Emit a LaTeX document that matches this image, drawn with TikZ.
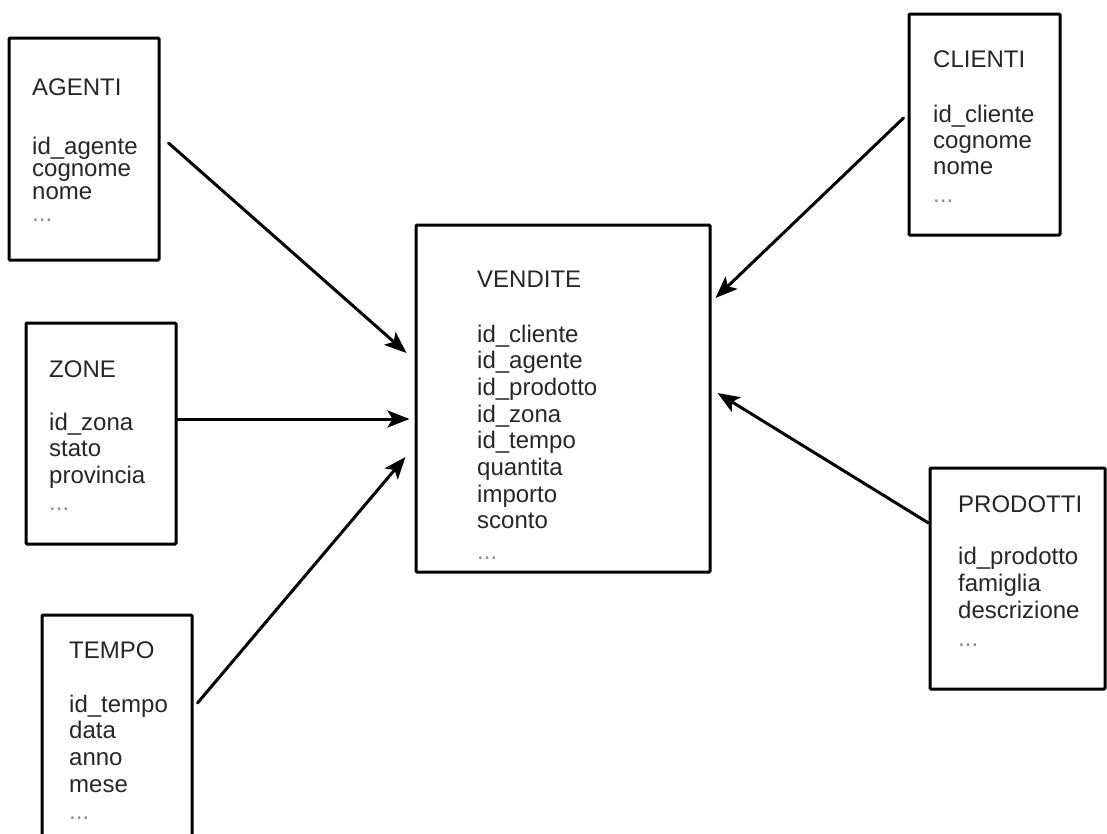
\documentclass[tikz,border=0pt]{standalone}
\usepackage{fontspec}
\setmainfont{Liberation Sans}
\usetikzlibrary{arrows.meta,calc}
\begin{document}
\begin{tikzpicture}[x=1pt,y=-1pt,
  table/.style={draw, line width=3pt, rectangle, inner sep=0pt, rounded corners=1pt},
  field/.style={anchor=base west, inner sep=0pt, font=\fontsize{24}{26}\selectfont, text=black!85},
  more/.style={field, text=black!45},
  link/.style={line width=3pt, line cap=round, -{Stealth[length=22pt,width=17pt,inset=5pt]}}]
\useasboundingbox (0,0) rectangle (1107,833);

% table outlines
\node[table, minimum width=150pt, minimum height=222pt] (agenti)   at (84,149) {};
\node[table, minimum width=150pt, minimum height=221pt] (zone)     at (101,433.5) {};
\node[table, minimum width=150pt, minimum height=236pt] (tempo)    at (117,733) {};
\node[table, minimum width=294pt, minimum height=347pt] (vendite)  at (563,398.5) {};
\node[table, minimum width=151pt, minimum height=221pt] (clienti)  at (984.5,124.5) {};
\node[table, minimum width=175pt, minimum height=221pt] (prodotti) at (1017.5,578.5) {};

% AGENTI
\node[field] (agenti-t) at (32,95) {AGENTI};
\foreach \yy/\txt [count=\i] in {154/id\_agente, 176.5/cognome, 199/nome}
  \node[field] (agenti-f\i) at (32,\yy) {\txt};
\node[more] (agenti-m) at (32,221) {...};

% ZONE
\node[field] (zone-t) at (49,377) {ZONE};
\foreach \yy/\txt [count=\i] in {430/id\_zona, 456.7/stato, 483.3/provincia}
  \node[field] (zone-f\i) at (49,\yy) {\txt};
\node[more] (zone-m) at (49,510) {...};

% TEMPO
\node[field] (tempo-t) at (69,658) {TEMPO};
\foreach \yy/\txt [count=\i] in {712/id\_tempo, 738.7/data, 765.3/anno, 792/mese}
  \node[field] (tempo-f\i) at (69,\yy) {\txt};
\node[more] (tempo-m) at (69,819) {...};

% VENDITE
\node[field] (vendite-t) at (477,287) {VENDITE};
\foreach \yy/\txt [count=\i] in {342/id\_cliente, 368.7/id\_agente, 395.3/id\_prodotto,
    422/id\_zona, 448.7/id\_tempo, 475.3/quantita, 502/importo, 528.7/sconto}
  \node[field] (vendite-f\i) at (477,\yy) {\txt};
\node[more] (vendite-m) at (477,559) {...};

% CLIENTI
\node[field] (clienti-t) at (933,67) {CLIENTI};
\foreach \yy/\txt [count=\i] in {122/id\_cliente, 148/cognome, 174.5/nome}
  \node[field] (clienti-f\i) at (933,\yy) {\txt};
\node[more] (clienti-m) at (933,202) {...};

% PRODOTTI
\node[field] (prodotti-t) at (958,512) {PRODOTTI};
\foreach \yy/\txt [count=\i] in {564/id\_prodotto, 591/famiglia, 618/descrizione}
  \node[field] (prodotti-f\i) at (958,\yy) {\txt};
\node[more] (prodotti-m) at (958,646) {...};

% references from the dimension tables to the fact table
\draw[link] ($(agenti.east)+(8,-6)$)    -- ($(vendite.west)+(-8,-45.5)$);
\draw[link] ($(zone.east)+(0,-14.5)$)   -- ($(vendite.west)+(-5,20.5)$);
\draw[link] ($(tempo.east)+(4,-30)$)    -- ($(vendite.west)+(-9,58.5)$);
\draw[link] ($(clienti.west)+(-4,-6.5)$) -- ($(vendite.east)+(4,-100.5)$);
\draw[link] ($(prodotti.west)+(0,-55.5)$) -- ($(vendite.east)+(6,-5.5)$);
\end{tikzpicture}
\end{document}
